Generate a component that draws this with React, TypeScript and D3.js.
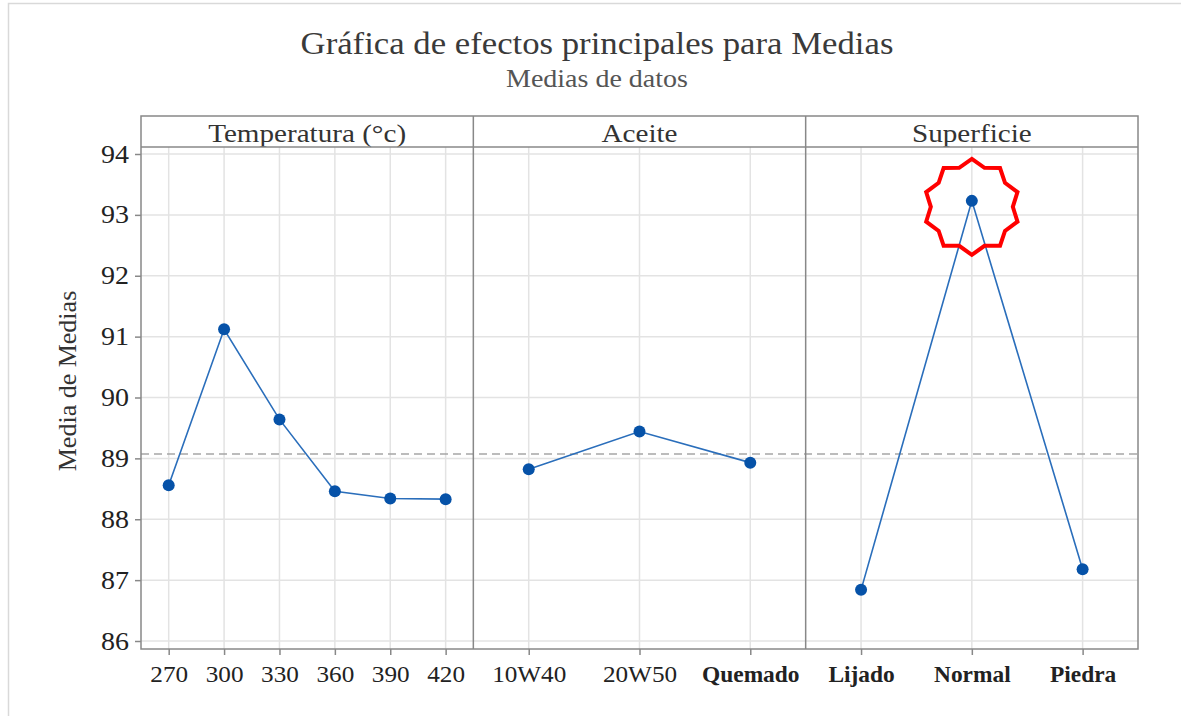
import React, { useEffect, useRef } from "react";
import * as d3 from "d3";

// panel factors and level labels
const factors = ["Temperatura (°c)", "Aceite", "Superficie"];
const tempLevels = ["270", "300", "330", "360", "390", "420"];
const tempMeans = [88.56, 91.12, 89.64, 88.46, 88.34, 88.33];
const aceiteLevels = ["10W40", "20W50", "Quemado"];
const aceiteMeans = [88.82, 89.44, 88.93];
const superLevels = ["Lijado", "Normal", "Piedra"];
const superMeans = [86.84, 93.23, 87.18];
const yTicks = [86, 87, 88, 89, 90, 91, 92, 93, 94];
const grandMean = 89.07;
const boldLevels = ["Quemado", "Lijado", "Normal", "Piedra"];

// the reference text is a bit wider than Liberation Serif
const STRETCH = 1.12;
const stretch = (sel: any, k = STRETCH) => {
  sel.each(function (this: SVGTextElement) {
    const len = this.getComputedTextLength();
    d3.select(this).attr("textLength", len * k).attr("lengthAdjust", "spacingAndGlyphs");
  });
};

const App = () => {
  const svgRef = useRef<SVGSVGElement>(null);

  useEffect(() => {
    const width = 1181;
    const height = 716;
    const svg = d3.select(svgRef.current);
    svg.selectAll("*").remove();
    svg.attr("width", width).attr("height", height);

    const font = "'Liberation Serif', 'Times New Roman', serif";
    const left = 141;
    const right = 1138;
    const stripTop = 116;
    const top = 147;
    const bottom = 649;
    const panelW = (right - left) / 3;

    // outer light border
    svg.append("rect")
      .attr("x", 8.5).attr("y", 3.5)
      .attr("width", 1200).attr("height", 800)
      .attr("fill", "white")
      .attr("stroke", "#d9d9d9").attr("stroke-width", 1.5);

    // titles
    svg.append("text")
      .attr("x", 597).attr("y", 54)
      .attr("text-anchor", "middle")
      .attr("font-family", font).attr("font-size", 31)
      .attr("fill", "#3a3a3a")
      .text("Gráfica de efectos principales para Medias")
      .call(stretch);
    svg.append("text")
      .attr("x", 597).attr("y", 87)
      .attr("text-anchor", "middle")
      .attr("font-family", font).attr("font-size", 25)
      .attr("fill", "#555")
      .text("Medias de datos")
      .call(stretch);

    const y = d3.scaleLinear().domain([86, 94]).range([641, 154]);

    const panels = [
      { levels: tempLevels, means: tempMeans },
      { levels: aceiteLevels, means: aceiteMeans },
      { levels: superLevels, means: superMeans },
    ];

    // horizontal grid
    svg.append("g").selectAll("line")
      .data(yTicks)
      .join("line")
      .attr("x1", left).attr("x2", right)
      .attr("y1", (d) => y(d)).attr("y2", (d) => y(d))
      .attr("stroke", "#e3e3e3").attr("stroke-width", 1.5);

    panels.forEach((p, i) => {
      const x0 = left + i * panelW;
      const x = d3.scalePoint().domain(p.levels).range([x0, x0 + panelW]).padding(0.5);

      // vertical grid
      svg.append("g").selectAll("line")
        .data(p.levels)
        .join("line")
        .attr("x1", (d) => x(d)!).attr("x2", (d) => x(d)!)
        .attr("y1", top).attr("y2", bottom)
        .attr("stroke", "#e3e3e3").attr("stroke-width", 1.5);

      // x ticks
      const axis = d3.axisBottom(x).tickSize(6).tickSizeOuter(0);
      const g = svg.append("g")
        .attr("transform", `translate(0,${bottom})`)
        .call(axis);
      g.select(".domain").remove();
      g.selectAll(".tick line").attr("stroke", "#888").attr("stroke-width", 1.5);
      const labels = g.selectAll(".tick text")
        .attr("y", 17)
        .attr("dy", "0.71em")
        .attr("font-family", font).attr("font-size", 22.5)
        .attr("fill", "#222")
        .attr("font-weight", (d: any) => (boldLevels.includes(d) ? "bold" : "normal"));
      labels.filter((d: any) => !boldLevels.includes(d)).call(stretch);
      labels.filter((d: any) => boldLevels.includes(d)).call(stretch, 1.04);

      // strip label
      svg.append("text")
        .attr("x", x0 + panelW / 2).attr("y", 142)
        .attr("text-anchor", "middle")
        .attr("font-family", font).attr("font-size", 26)
        .attr("fill", "#333")
        .text(factors[i])
        .call(stretch);
    });

    // grand mean dashed line
    svg.append("line")
      .attr("x1", left).attr("x2", right)
      .attr("y1", y(grandMean)).attr("y2", y(grandMean))
      .attr("stroke", "#a6a6a6").attr("stroke-width", 1.5)
      .attr("stroke-dasharray", "8,5");

    // data lines & points
    panels.forEach((p, i) => {
      const x0 = left + i * panelW;
      const x = d3.scalePoint().domain(p.levels).range([x0, x0 + panelW]).padding(0.5);
      const pts = p.levels.map((l, k) => [x(l)!, y(p.means[k])] as [number, number]);
      svg.append("path")
        .attr("d", d3.line()(pts))
        .attr("fill", "none")
        .attr("stroke", "#2a6ebb").attr("stroke-width", 1.6);
      svg.append("g").selectAll("circle")
        .data(pts)
        .join("circle")
        .attr("cx", (d) => d[0]).attr("cy", (d) => d[1])
        .attr("r", 6)
        .attr("fill", "#0652a8");
    });

    // frames: strip and plot
    svg.append("rect")
      .attr("x", left).attr("y", stripTop)
      .attr("width", right - left).attr("height", bottom - stripTop)
      .attr("fill", "none").attr("stroke", "#888").attr("stroke-width", 1.5);
    svg.append("line")
      .attr("x1", left).attr("x2", right)
      .attr("y1", top).attr("y2", top)
      .attr("stroke", "#888").attr("stroke-width", 1.5);
    [1, 2].forEach((k) => {
      svg.append("line")
        .attr("x1", left + k * panelW).attr("x2", left + k * panelW)
        .attr("y1", stripTop).attr("y2", bottom)
        .attr("stroke", "#888").attr("stroke-width", 1.5);
    });

    // y axis
    const ya = svg.append("g")
      .attr("transform", `translate(${left},0)`)
      .call(d3.axisLeft(y).tickValues(yTicks).tickSize(6).tickPadding(6));
    ya.select(".domain").remove();
    ya.selectAll(".tick line").attr("stroke", "#888").attr("stroke-width", 1.5);
    ya.selectAll(".tick text")
      .attr("font-family", font).attr("font-size", 25)
      .attr("fill", "#222")
      .call(stretch);

    svg.append("text")
      .attr("transform", `translate(76,381) rotate(-90)`)
      .attr("text-anchor", "middle")
      .attr("font-family", font).attr("font-size", 26)
      .attr("fill", "#333")
      .text("Media de Medias");

    // red 10-point star highlight around the max
    const cx = d3.scalePoint().domain(superLevels).range([left + 2 * panelW, right]).padding(0.5)("Normal")!;
    const cy = y(d3.max(superMeans)!) + 6;
    const nPts = 10;
    const starPts: [number, number][] = d3.range(nPts * 2).map((k) => [
      (k * Math.PI) / nPts,
      k % 2 === 0 ? 48 : 41,
    ]);
    svg.append("path")
      .attr("transform", `translate(${cx},${cy})`)
      .attr("d", d3.lineRadial().curve(d3.curveLinearClosed)(starPts))
      .attr("fill", "none")
      .attr("stroke", "#ff0000").attr("stroke-width", 4)
      .attr("stroke-linejoin", "miter");
  }, []);

  return (
    <div style={{ position: "absolute", left: 0, top: 0 }}>
      <svg ref={svgRef} style={{ display: "block" }}></svg>
    </div>
  );
};

export default App;
